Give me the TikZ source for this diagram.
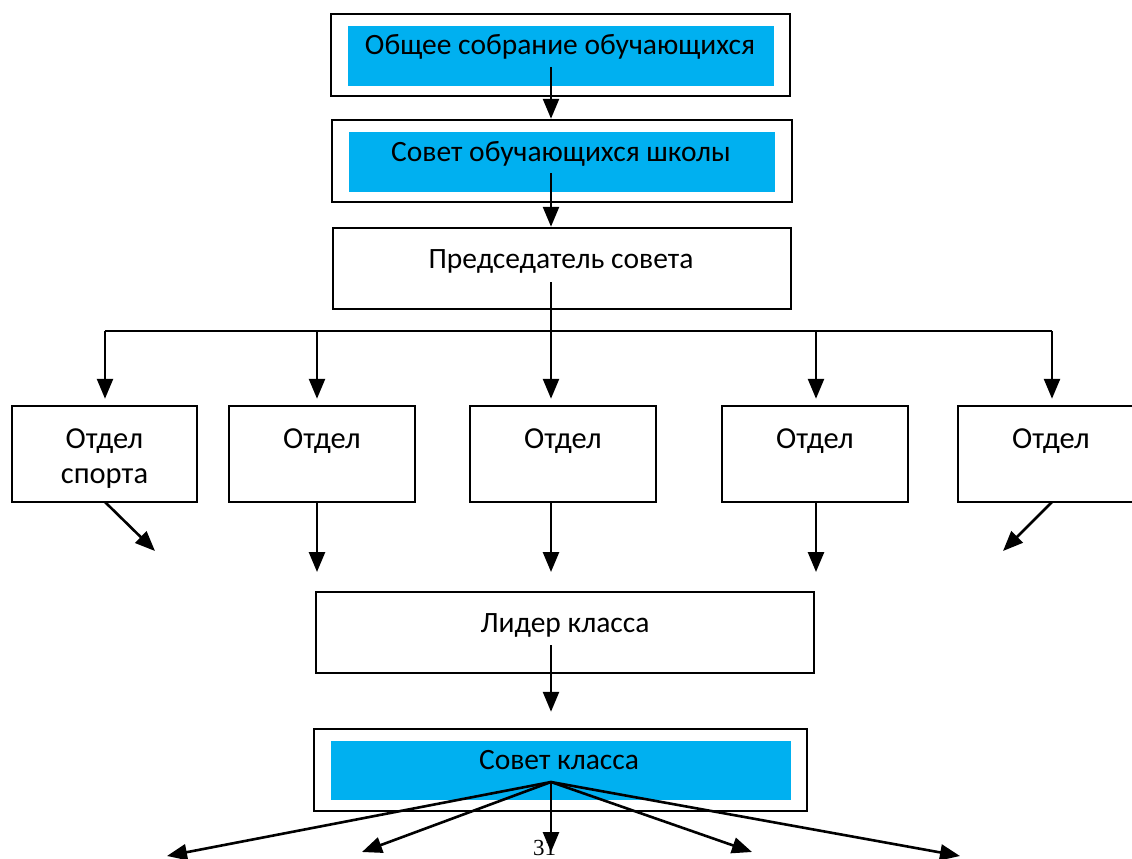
\documentclass[tikz,border=0pt]{standalone}
\usepackage{fontspec}
\setmainfont{Carlito}
\newfontfamily\pagenumfont{Liberation Serif}
\usetikzlibrary{arrows.meta}
\definecolor{boxcyan}{HTML}{00B0F0}
\tikzset{
  plainbox/.style={draw=black, line width=2.5pt, fill=white, inner sep=0pt},
  cyanbox/.style={fill=boxcyan, draw=none, inner sep=0pt},
  lbl/.style={anchor=base, inner sep=0pt, font=\fontsize{29.5}{34}\selectfont},
  deptlbl/.style={anchor=base, inner sep=0pt, font=\fontsize{30.5}{35}\selectfont},
  arr/.style={line width=2.6pt, -{Triangle[length=20pt,width=16pt]}},
  ln/.style={line width=2.6pt}
}
\begin{document}
\begin{tikzpicture}[x=1pt,y=-1pt]
\useasboundingbox (0,0) rectangle (1132,859);
% top double boxes
\node[plainbox, minimum width=459pt, minimum height=82pt] (b1) at (560.5,55) {};
\node[cyanbox, minimum width=426pt, minimum height=60pt] (b1i) at (561,56) {};
\node[lbl] (t1) at (560,55) {Общее собрание обучающихся};
\node[plainbox, minimum width=460pt, minimum height=82pt] (b2) at (562,161) {};
\node[cyanbox, minimum width=426pt, minimum height=60pt] (b2i) at (562,162) {};
\node[lbl] (t2) at (561,161) {Совет обучающихся школы};
\node[plainbox, minimum width=458pt, minimum height=81pt] (b3) at (562,268.5) {};
\node[lbl] (t3) at (561,268) {Председатель совета};
% departments
\node[plainbox, minimum width=185pt, minimum height=96pt] (da) at (104.5,454) {};
\node[plainbox, minimum width=186pt, minimum height=96pt] (db) at (322,454) {};
\node[plainbox, minimum width=186pt, minimum height=96pt] (dc) at (563,454) {};
\node[plainbox, minimum width=186pt, minimum height=96pt] (dd) at (815,454) {};
\node[plainbox, minimum width=186pt, minimum height=96pt] (de) at (1051,454) {};
\node[deptlbl] (ta1) at (104.5,448) {Отдел};
\node[deptlbl] (ta2) at (104.5,483) {спорта};
\node[deptlbl] (tb) at (322,448) {Отдел};
\node[deptlbl] (tc) at (563,448) {Отдел};
\node[deptlbl] (td) at (815,448) {Отдел};
\node[deptlbl] (te) at (1051,448) {Отдел};
% leader
\node[plainbox, minimum width=498pt, minimum height=81pt] (lid) at (565,632.5) {};
\node[lbl] (tl) at (565,632) {Лидер класса};
% class council
\node[plainbox, minimum width=493pt, minimum height=82pt] (sk) at (560.5,770) {};
\node[cyanbox, minimum width=460pt, minimum height=59pt] (ski) at (561,770.5) {};
\node[lbl] (tsk) at (559,769) {Совет класса};
% coordinates
\coordinate (s1) at (551,67);
\coordinate (s2) at (551,173);
\coordinate (s3) at (551,282);
\coordinate (hl) at (105,331);
\coordinate (hr) at (1052,331);
\coordinate (sl) at (551,645);
\coordinate (fan) at (551,782);
\coordinate (fa) at (155,551);
\coordinate (fe) at (1003,551);
\coordinate (fb) at (317,572);
\coordinate (fc) at (551,572);
\coordinate (fd) at (816,572);
\coordinate (k1) at (167,856);
\coordinate (k2) at (362,852);
\coordinate (k3) at (551,852);
\coordinate (k4) at (752,852);
\coordinate (k5) at (960,856);
% connectors
\draw[arr] (s1) -- (s1 |- b2.north);
\draw[arr] (s2) -- (s2 |- b3.north);
\draw[ln] (hl) -- (hr);
\draw[arr] (s3) -- ([yshift=6pt]s3 |- dc.north);
\draw[arr] (hl) -- ([yshift=6pt]hl |- da.north);
\draw[arr] (317,331) -- ([yshift=6pt]317,331 |- db.north);
\draw[arr] (816,331) -- ([yshift=6pt]816,331 |- dd.north);
\draw[arr] (hr) -- ([yshift=6pt]hr |- de.north);
\draw[arr] (105,502) -- (fa);
\draw[arr] (1052,502) -- (fe);
\draw[arr] (fb |- db.south) -- (fb);
\draw[arr] (fc |- dc.south) -- (fc);
\draw[arr] (fd |- dd.south) -- (fd);
\draw[arr] (sl) -- ([yshift=16pt]sl |- sk.north);
\node[anchor=base west, inner sep=0pt, font=\pagenumfont\fontsize{23}{27}\selectfont] (pg) at (533,855) {31};
\draw[arr] (fan) -- (k1);
\draw[arr] (fan) -- (k2);
\draw[arr] (fan) -- (k3);
\draw[arr] (fan) -- (k4);
\draw[arr] (fan) -- (k5);
\end{tikzpicture}
\end{document}
